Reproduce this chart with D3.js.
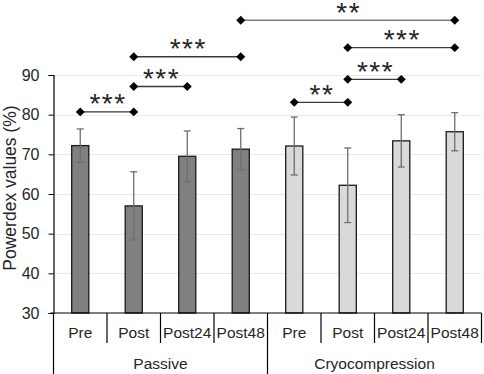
<!DOCTYPE html>
<html lang="en">
    <head>
        <meta charset="utf-8">
        <title>Powerdex values</title>
        <script type="text/javascript" src="https://cdn.jsdelivr.net/npm/d3@7"></script>
        <style type="text/css">
            body { margin: 0; background: #fff; }
            text { font-family: "Liberation Sans", Arial, sans-serif; fill: #262626; }
        </style>
    </head>
    <body>
        <script type="text/javascript">
        // Data
        var groups     = ["Passive", "Cryocompression"];
        var timepoints = ["Pre", "Post", "Post24", "Post48"];
        var passiveMean = [72.2, 57.0, 69.5, 71.3];
        var passiveSD   = [4.2, 8.6, 6.4, 5.2];
        var cryoMean    = [72.1, 62.2, 73.4, 75.7];
        var cryoSD      = [7.3, 9.4, 6.6, 4.8];
        var yTicks      = [30, 40, 50, 60, 70, 80, 90];
        // significance brackets: from bar index, to bar index, height (axis units), label
        var bracketFrom  = [0, 1, 1, 4, 5, 5, 3];
        var bracketTo    = [1, 2, 3, 5, 6, 7, 7];
        var bracketY     = [80.7, 87.1, 94.6, 83.1, 88.9, 96.9, 103.8];
        var bracketLabel = ["***", "***", "***", "**", "***", "***", "**"];

        var svgWidth = 484, svgHeight = 374;
        var plotLeft = 53.5, plotRight = 481.5, plotTop = 75, plotBottom = 313;

        // flatten into one row per bar
        var bars = [];
        groups.forEach(function(g, gi) {
            var means = gi === 0 ? passiveMean : cryoMean;
            var sds   = gi === 0 ? passiveSD : cryoSD;
            timepoints.forEach(function(t, ti) {
                bars.push({ group: g, gi: gi, label: t, mean: means[ti], sd: sds[ti] });
            });
        });

        var x = d3.scaleBand()
            .domain(d3.range(bars.length))
            .range([plotLeft, plotRight])
            .padding(0);

        var y = d3.scaleLinear()
            .domain([30, 90])
            .range([plotBottom, plotTop]);

        var barW = x.bandwidth() * 0.32;
        var cx = function(i) { return x(i) + x.bandwidth() / 2; };

        var svg = d3.select("body")
            .append("svg")
            .attr("width", svgWidth)
            .attr("height", svgHeight);

        // gridlines
        svg.selectAll("line.grid")
            .data(yTicks.slice(1))
            .enter()
            .append("line")
            .attr("x1", plotLeft)
            .attr("x2", plotRight)
            .attr("y1", function(d) { return Math.round(y(d)) + 0.5; })
            .attr("y2", function(d) { return Math.round(y(d)) + 0.5; })
            .attr("stroke", "#e8e8e8")
            .attr("stroke-width", 1);

        // y axis
        var yAxis = svg.append("g")
            .attr("transform", "translate(" + plotLeft + ",0)")
            .call(d3.axisLeft(y).tickValues(yTicks).tickSize(5).tickPadding(9));
        yAxis.select(".domain").attr("stroke", "#000").attr("stroke-width", 1.2);
        yAxis.selectAll(".tick line").attr("stroke", "#000");
        yAxis.selectAll(".tick text")
            .attr("font-size", "16px")
            .attr("fill", "#262626")
            .style("font-family", "'Liberation Sans', Arial, sans-serif");

        svg.append("text")
            .attr("transform", "translate(15.5,188) rotate(-90)")
            .attr("text-anchor", "middle")
            .attr("font-size", "17.5px")
            .text("Powerdex values (%)");

        // bars
        svg.selectAll("rect.bar")
            .data(bars)
            .enter()
            .append("rect")
            .attr("x", function(d, i) { return cx(i) - barW / 2; })
            .attr("y", function(d) { return y(d.mean); })
            .attr("width", barW)
            .attr("height", function(d) { return y(30) - y(d.mean); })
            .attr("fill", function(d) { return d.gi === 0 ? "#808080" : "#d9d9d9"; })
            .attr("stroke", "#1a1a1a")
            .attr("stroke-width", 1.3);

        // error bars
        var err = svg.selectAll("g.err")
            .data(bars)
            .enter()
            .append("g")
            .attr("stroke", "#6e6e6e")
            .attr("stroke-width", 1.3);
        err.append("line")
            .attr("x1", function(d, i) { return cx(i); })
            .attr("x2", function(d, i) { return cx(i); })
            .attr("y1", function(d) { return y(d.mean - d.sd); })
            .attr("y2", function(d) { return y(d.mean + d.sd); });
        [-1, 1].forEach(function(s) {
            err.append("line")
                .attr("x1", function(d, i) { return cx(i) - 3.5; })
                .attr("x2", function(d, i) { return cx(i) + 3.5; })
                .attr("y1", function(d) { return y(d.mean + s * d.sd); })
                .attr("y2", function(d) { return y(d.mean + s * d.sd); });
        });

        // x axis: baseline, category dividers, group dividers
        svg.append("line")
            .attr("x1", plotLeft - 3).attr("x2", plotRight)
            .attr("y1", plotBottom).attr("y2", plotBottom)
            .attr("stroke", "#000").attr("stroke-width", 1.2);
        svg.selectAll("line.catdiv")
            .data(d3.range(1, bars.length))
            .enter()
            .append("line")
            .attr("x1", function(d) { return x(d); })
            .attr("x2", function(d) { return x(d); })
            .attr("y1", plotBottom)
            .attr("y2", function(d) { return d % timepoints.length === 0 ? svgHeight : 343; })
            .attr("stroke", "#000").attr("stroke-width", 1.2);
        svg.append("line")
            .attr("x1", plotLeft).attr("x2", plotLeft)
            .attr("y1", plotBottom).attr("y2", svgHeight)
            .attr("stroke", "#000").attr("stroke-width", 1.2);
        svg.append("line")
            .attr("x1", plotRight).attr("x2", plotRight)
            .attr("y1", plotBottom).attr("y2", 343)
            .attr("stroke", "#000").attr("stroke-width", 1.2);

        svg.selectAll("text.cat")
            .data(bars)
            .enter()
            .append("text")
            .attr("x", function(d, i) { return cx(i); })
            .attr("y", 338)
            .attr("text-anchor", "middle")
            .attr("font-size", "15.5px")
            .text(function(d) { return d.label; });

        svg.selectAll("text.grp")
            .data(groups)
            .enter()
            .append("text")
            .attr("x", function(d, gi) {
                var a = x(gi * timepoints.length);
                var b = x(gi * timepoints.length + timepoints.length - 1) + x.bandwidth();
                return (a + b) / 2;
            })
            .attr("y", 369)
            .attr("text-anchor", "middle")
            .attr("font-size", "15.5px")
            .text(function(d) { return d; });

        // significance brackets
        var brackets = bracketFrom.map(function(f, i) {
            return { from: f, to: bracketTo[i], y: bracketY[i], label: bracketLabel[i] };
        });
        var diamond = d3.symbol().type(d3.symbolSquare).size(40);

        var br = svg.selectAll("g.bracket")
            .data(brackets)
            .enter()
            .append("g");
        br.append("line")
            .attr("x1", function(d) { return cx(d.from); })
            .attr("x2", function(d) { return cx(d.to); })
            .attr("y1", function(d) { return y(d.y); })
            .attr("y2", function(d) { return y(d.y); })
            .attr("stroke", function(d, i) { return i === brackets.length - 1 ? "#7a7a7a" : "#3a3a3a"; })
            .attr("stroke-width", 1.4);
        ["from", "to"].forEach(function(k) {
            br.append("path")
                .attr("d", diamond)
                .attr("transform", function(d) {
                    return "translate(" + cx(d[k]) + "," + y(d.y) + ") rotate(45)";
                })
                .attr("fill", "#000");
        });
        br.append("text")
            .attr("x", function(d) { return (cx(d.from) + cx(d.to)) / 2 + 1; })
            .attr("y", function(d) { return y(d.y) + 1.5; })
            .attr("text-anchor", "middle")
            .attr("font-size", "28px")
            .attr("letter-spacing", "1.5px")
            .attr("fill", "#1a1a1a")
            .text(function(d) { return d.label; });
        </script>
    </body>
</html>
